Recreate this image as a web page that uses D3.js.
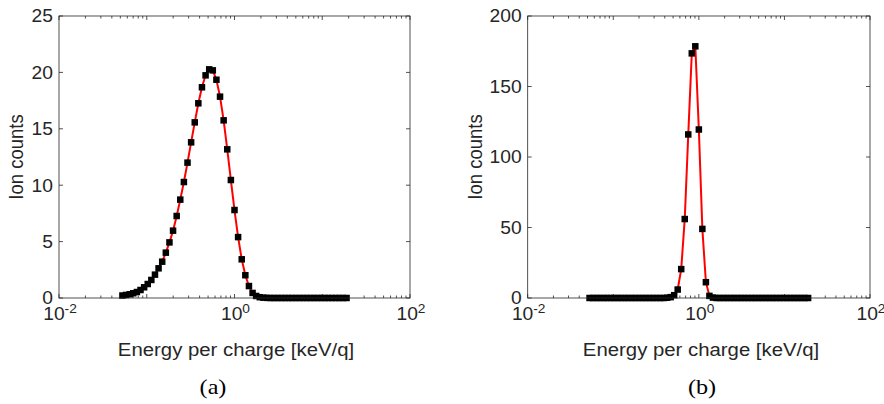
<!DOCTYPE html>
<html><head><meta charset="utf-8">
<script src="https://cdn.jsdelivr.net/npm/d3@7"></script>
<style>body{margin:0;background:#fff}svg{display:block}</style>
</head><body>
<svg id="c" width="884" height="404"></svg>
<script>
const energies = [0.0528,0.0581,0.0639,0.0702,0.0772,0.0849,0.0934,0.1026,0.1128,0.1241,
  0.1364,0.1500,0.1650,0.1814,0.1994,0.2193,0.2410,0.2650,0.2914,0.3204,
  0.3523,0.3873,0.4258,0.4682,0.5148,0.5660,0.6222,0.6841,0.7522,0.8270,
  0.9092,1.000,1.099,1.209,1.329,1.461,1.607,1.766,1.942,2.135,
  2.348,2.581,2.838,3.121,3.431,3.773,4.148,4.560,5.014,5.512,
  6.061,6.664,7.327,8.056,8.857,9.739,10.71,11.77,12.94,14.23,
  15.65,17.20,18.92];
const countsA = [0.22,0.27,0.33,0.42,0.53,0.71,0.95,1.24,1.6,2.07,
  2.63,3.22,4.02,4.93,5.97,7.27,8.72,10.28,12.0,13.8,
  15.57,17.26,18.68,19.74,20.27,20.18,19.35,17.85,15.75,13.18,
  10.46,7.8,5.4,3.43,2.02,1.06,0.45,0.18,0.07,0.03,
  0.01,0,0,0,0,0,0,0,0,0,
  0,0,0,0,0,0,0,0,0,0,
  0,0,0];
const countsB = [0,0,0,0,0,0,0,0,0,0,
  0,0,0,0,0,0,0,0,0,0,
  0,0,0.2,0.6,2,6,20.5,56,116,173.5,
  178.5,119.5,49,11.2,1.5,0.3,0,0,0,0,
  0,0,0,0,0,0,0,0,0,0,
  0,0,0,0,0,0,0,0,0,0,
  0,0,0];
const yTicksA = [0,5,10,15,20,25];
const yTicksB = [0,50,100,150,200];
const xTickExps = [-2,0,2];
const panelLabels = ["(a)","(b)"];
const xLabel = "Energy per charge [keV/q]";
const yLabel = "Ion counts";

const SX = 1.1;
const axisColor = "#262626";
const svg = d3.select("#c");
const sans = "'Liberation Sans', Arial, Helvetica, sans-serif";

function panel(cfg){
  const {x0,x1,y0,y1,yMax,yTicks,counts,label,labelCx,xLabelCx,yLabelX} = cfg;
  const x = d3.scaleLog().domain([0.01,100]).range([x0,x1]);
  const y = d3.scaleLinear().domain([0,yMax]).range([y1,y0]);
  const g = svg.append("g");

  const isDecade = v => Math.abs(Math.log10(v) - Math.round(Math.log10(v))) < 1e-6;
  const minor = x.ticks().filter(v => !isDecade(v));
  const majors = x.ticks().filter(isDecade);
  const tickG = g.append("g").attr("stroke", axisColor).attr("stroke-width",0.8);
  [[y1,-1],[y0,1]].forEach(([yy,dir]) => {
    tickG.selectAll(null).data(minor).enter().append("line")
      .attr("x1", d=>x(d)).attr("x2", d=>x(d))
      .attr("y1", yy).attr("y2", yy + dir*2.5);
    tickG.selectAll(null).data(majors).enter().append("line")
      .attr("x1", d=>x(d)).attr("x2", d=>x(d))
      .attr("y1", yy).attr("y2", yy + dir*4);
  });
  [[x0,1],[x1,-1]].forEach(([xx,dir]) => {
    tickG.selectAll(null).data(yTicks).enter().append("line")
      .attr("x1", xx).attr("x2", xx + dir*4)
      .attr("y1", d=>y(d)).attr("y2", d=>y(d));
  });

  const pts = energies.map((e,i)=>[e,counts[i]]);
  g.append("path").datum(pts)
    .attr("fill","none").attr("stroke","#ff0000").attr("stroke-width",2)
    .attr("d", d3.line().x(d=>x(d[0])).y(d=>y(d[1])));
  const ms = 6.5;
  g.selectAll(null).data(pts).enter().append("rect")
    .attr("x", d=>x(d[0])-ms/2).attr("y", d=>y(d[1])-ms/2)
    .attr("width", ms).attr("height", ms).attr("fill","#000");

  g.append("rect").attr("x",x0).attr("y",y0).attr("width",x1-x0).attr("height",y1-y0)
    .attr("fill","none").attr("stroke",axisColor).attr("stroke-width",0.8);

  yTicks.forEach(t => {
    g.append("text").attr("transform",`translate(${x0-6},${y(t)}) scale(${SX},1)`)
      .attr("dy","0.36em").attr("text-anchor","end")
      .attr("font-family",sans).attr("font-size",17.5).attr("fill",axisColor).text(t);
  });
  xTickExps.forEach(e => {
    const t = g.append("text").attr("transform",`translate(${x(Math.pow(10,e))+1},320) scale(${SX},1)`)
      .attr("text-anchor","middle").attr("font-family",sans).attr("font-size",17.5).attr("fill",axisColor);
    t.append("tspan").text("10");
    t.append("tspan").attr("dy",-7.5).attr("font-size",12.5).text(String(e));
  });
  g.append("text").attr("transform",`translate(${xLabelCx},356) scale(${SX},1)`)
    .attr("text-anchor","middle").attr("font-family",sans).attr("font-size",18.5).attr("fill",axisColor).text(xLabel);
  g.append("text").attr("transform",`translate(${yLabelX},${(y0+y1)/2}) scale(${SX},1) rotate(-90)`)
    .attr("text-anchor","middle").attr("dy","0.35em").attr("font-family",sans).attr("font-size",18.5).attr("fill",axisColor).text(yLabel);
  g.append("text").attr("transform",`translate(${labelCx},394) scale(${SX},1)`)
    .attr("text-anchor","middle").attr("font-family","'Liberation Serif','Times New Roman',serif")
    .attr("font-size",22).attr("fill","#000").text(label);
}

panel({x0:59,x1:410,y0:16,y1:298,yMax:25,yTicks:yTicksA,counts:countsA,label:panelLabels[0],labelCx:213,xLabelCx:236,yLabelX:16});
panel({x0:527.7,x1:870,y0:16,y1:298,yMax:200,yTicks:yTicksB,counts:countsB,label:panelLabels[1],labelCx:702,xLabelCx:701,yLabelX:475});
</script>
</body></html>
